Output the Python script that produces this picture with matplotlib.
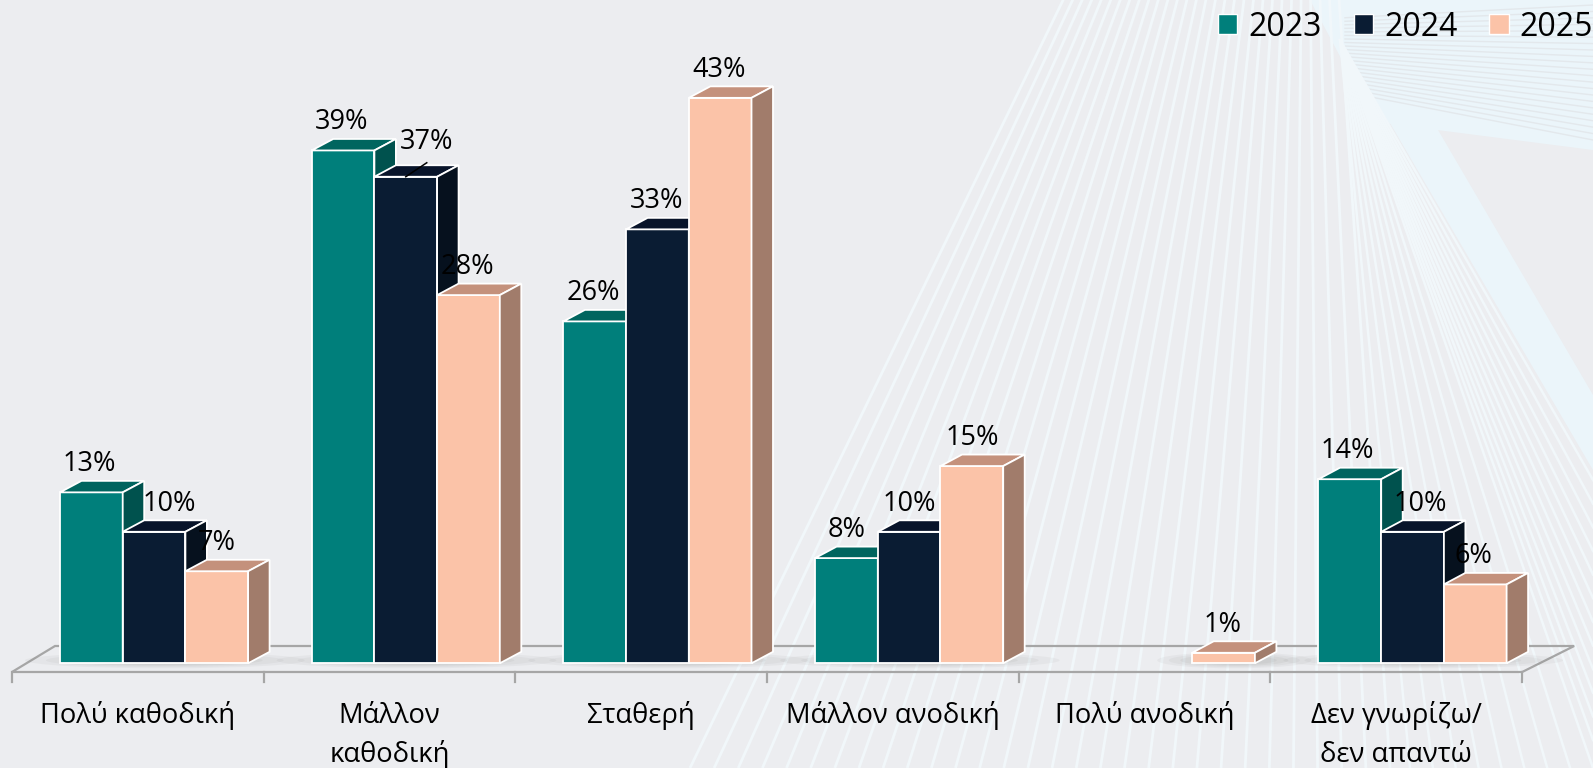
import numpy as np
import matplotlib
matplotlib.use('Agg')
import matplotlib.pyplot as plt
from matplotlib.patches import Polygon, Patch, Ellipse

plt.rcParams['font.family'] = ['Open Sans', 'DejaVu Sans']

# ---------------- data ----------------
categories = ['Πολύ καθοδική', 'Μάλλον\nκαθοδική', 'Σταθερή',
              'Μάλλον ανοδική', 'Πολύ ανοδική', 'Δεν γνωρίζω/\nδεν απαντώ']
series = ['2023', '2024', '2025']
v2023 = [13, 39, 26, 8, 0, 14]
v2024 = [10, 37, 33, 10, 0, 10]
v2025 = [7, 28, 43, 15, 0.8, 6]
values = [v2023, v2024, v2025]

# ---------------- style ----------------
front_c = ['#007F7B', '#0A1C33', '#FBC3A8']
top_c = ['#00655F', '#08142A', '#C4917C']
side_c = ['#00524E', '#06111E', '#A17C6B']
bg_c = '#ECEDF0'
line_c = '#F1F7FA'
light_c = '#EBF5FA'
floor_c = '#A6A6A6'

# label x-offsets in pixels (Excel nudged a few labels)
label_dx = [[-2, 15, 0], [-1, 21, -1], [-1, -1, -1], [0, 0, 0], [0, 0, -1], [-3, 8, -2]]

W, H = 1593, 768
X0, CW = 12.0, 251.7        # left edge of first category, category width (px)
Y0, PPU = 663.3, 13.15       # zero baseline (px from top), px per percent

fig = plt.figure(figsize=(W / 100, H / 100), dpi=100)
fig.patch.set_facecolor(bg_c)

# ---------------- decorative background ----------------
bg = fig.add_axes([0, 0, 1, 1], zorder=0)
bg.set_xlim(0, W)
bg.set_ylim(H, 0)
bg.axis('off')
bg.add_patch(Polygon([(1310, 0), (W, 0), (W, 150), (1375, 122)], closed=True,
                     facecolor=light_c, edgecolor='none'))
for ey in np.linspace(5, 140, 22):
    bg.plot([1345, W], [15 + ey * 0.55, ey], color='#E3E8EC', lw=1.0)
bg.add_patch(Polygon([(1318, 0), (1362, 0), (W, 395), (W, 470)], closed=True,
                     facecolor=light_c, edgecolor='none'))
apexA = (1306, -500)
for ex in np.linspace(690, 1390, 30):
    bg.plot([apexA[0], ex], [apexA[1], H], color=line_c, lw=2.0, solid_capstyle='butt')
apexB = (1340, 40)
for ex in np.linspace(1410, 1593, 9):
    bg.plot([apexB[0], ex], [apexB[1], H], color=line_c, lw=1.8)
for ey in np.linspace(740, 480, 12):
    bg.plot([apexB[0], W], [apexB[1], ey], color=line_c, lw=1.8)

# ---------------- main axes in category / percent units ----------------
ax = fig.add_axes([0, 0, 1, 1], zorder=1)
ax.patch.set_alpha(0)
ax.set_xlim(-0.5 - X0 / CW, -0.5 + (W - X0) / CW)
ax.set_ylim(-(H - Y0) / PPU, Y0 / PPU)
ax.axis('off')

def dxp(p):
    return p / CW

def dyp(p):
    return p / PPU

# floor
yf = -dyp(672 - Y0)
yb = dyp(Y0 - 646)
n = len(categories)
ax.add_patch(Polygon([(-0.5, yf), (n - 0.5, yf), (n - 0.5 + dxp(52), yb), (-0.5 + dxp(43), yb)],
                     closed=True, fill=False, edgecolor=floor_c, lw=1.6, zorder=2))
for k in range(n + 1):
    ax.plot([k - 0.5, k - 0.5], [yf, yf - dyp(10)], color=floor_c, lw=1.6, zorder=2)

off = dxp(48)
bw = dxp(62.7)
DX = dxp(21.5)
DY = dyp(11.5)

# soft shadows on floor
for i in range(n):
    present = [k for k in range(3) if values[k][i] > 0]
    if not present:
        continue
    xl = i - 0.5 + off + present[0] * bw
    xr = i - 0.5 + off + (present[-1] + 1) * bw + DX
    cx = (xl + xr) / 2
    for s, a in [(1.0, 0.06), (0.85, 0.06), (0.7, 0.07), (0.55, 0.07)]:
        ax.add_patch(Ellipse((cx, dyp(3)), (xr - xl + dxp(70)) * s, dyp(16) * s,
                             facecolor='#6E6E6E', edgecolor='none', alpha=a, zorder=3))

# bars
for i in range(n):
    for k in range(3):
        v = values[k][i]
        if v <= 0:
            continue
        z = 10 + i * 10 + k * 3
        xl = i - 0.5 + off + k * bw
        xr = xl + bw
        ax.bar(xl, v, width=bw, align='edge', color=front_c[k], edgecolor='white',
               linewidth=1.3, zorder=z)
        ax.add_patch(Polygon([(xl, v), (xl + DX, v + DY), (xr + DX, v + DY), (xr, v)],
                             closed=True, facecolor=top_c[k], edgecolor='white', lw=1.3, zorder=z + 1))
        ax.add_patch(Polygon([(xr, 0), (xr, v), (xr + DX, v + DY), (xr + DX, DY)],
                             closed=True, facecolor=side_c[k], edgecolor='white', lw=1.3, zorder=z + 1))
        xc = xl + bw / 2
        lift = 21
        if i == 1 and k == 1:
            lift = 28
            ax.plot([xc, xc + dxp(21)], [v, v + dyp(14)], color='black', lw=1.1, zorder=200)
        ax.text(xc + dxp(label_dx[i][k]), v + dyp(lift), f'{round(v):d}%',
                ha='center', va='baseline', fontsize=19.5, color='black', zorder=210)

# category labels
for i, lab in enumerate(categories):
    for j, line in enumerate(lab.split('\n')):
        ax.text(i, (Y0 - (723 + 39 * j)) / PPU, line, ha='center', va='baseline',
                fontsize=19.7, color='black', zorder=5)

# legend
handles = [Patch(facecolor=front_c[k], edgecolor='white', lw=1) for k in range(3)]
fig.legend(handles, series, loc='center left', bbox_to_anchor=(1218 / W, 1 - 27 / H),
           ncol=3, frameon=False, fontsize=23, handlelength=0.6, handleheight=0.6,
           handletextpad=0.35, columnspacing=1.0, borderpad=0, borderaxespad=0)

fig.savefig('out.png', dpi=100, facecolor=bg_c)
